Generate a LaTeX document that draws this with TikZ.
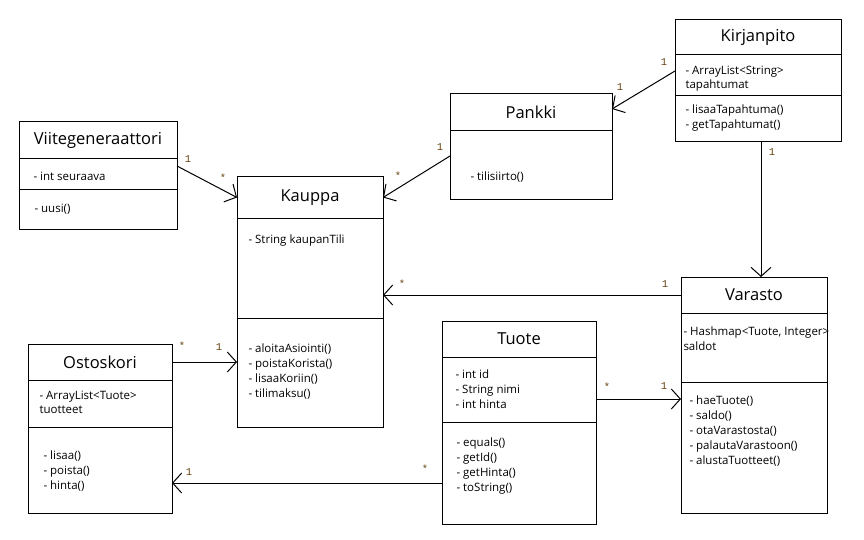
\documentclass[tikz,border=0pt]{standalone}
\usepackage{fontspec}
\setmainfont{Open Sans}
\newfontfamily\multfont{Liberation Mono}
\usepackage{tikz}
\usetikzlibrary{arrows.meta}
\usetikzlibrary{positioning}
\definecolor{multcol}{RGB}{100,66,16}

\begin{document}
\begin{tikzpicture}[x=1pt, y=-1pt, line width=1pt,
    classname/.style={draw, outer sep=0pt, inner sep=0pt, anchor=north west, font=\fontsize{16.5}{18}\selectfont},
    part/.style={draw, outer sep=0pt, inner sep=0pt},
    members/.style={anchor=north west, inner sep=0pt, align=left, font=\fontsize{11.5}{15}\selectfont},
    mult/.style={inner sep=0pt, font=\multfont\fontsize{10.5}{10.5}\selectfont, text=multcol},
    assoc/.style={-{Straight Barb[length=9pt, width=20pt]}}]
        \useasboundingbox (0,0) rectangle (864,540);

        % classes
        \node[classname, minimum width=158pt, minimum height=37pt] (viite) at (19,122) {Viitegeneraattori};
        \node[part, minimum width=158pt, minimum height=31pt, below=0pt of viite] (viiteA) {};
        \node[part, minimum width=158pt, minimum height=39pt, below=0pt of viiteA] (viiteM) {};
        \node[members] (viiteAt) at ([xshift=14pt, yshift=-13pt]viiteA.north west) {- int seuraava};
        \node[members] (viiteMt) at ([xshift=15pt, yshift=-14pt]viiteM.north west) {- uusi()};

        \node[classname, minimum width=146pt, minimum height=41pt] (kauppa) at (237,177) {Kauppa};
        \node[part, minimum width=146pt, minimum height=100pt, below=0pt of kauppa] (kauppaA) {};
        \node[part, minimum width=146pt, minimum height=109pt, below=0pt of kauppaA] (kauppaM) {};
        \node[members] (kauppaAt) at ([xshift=11pt, yshift=-16pt]kauppaA.north west) {- String kaupanTili};
        \node[members] (kauppaMt) at ([xshift=11pt, yshift=-25pt]kauppaM.north west) {- aloitaAsiointi()\\- poistaKorista()\\- lisaaKoriin()\\- tilimaksu()};

        \node[classname, minimum width=162pt, minimum height=37pt] (pankki) at (450,94) {Pankki};
        \node[part, minimum width=162pt, minimum height=68pt, below=0pt of pankki] (pankkiB) {};
        \node[members] (pankkiBt) at ([xshift=20pt, yshift=-40pt]pankkiB.north west) {- tilisiirto()};

        \node[classname, minimum width=166pt, minimum height=35pt] (kirja) at (675,20) {Kirjanpito};
        \node[part, minimum width=166pt, minimum height=41pt, below=0pt of kirja] (kirjaA) {};
        \node[part, minimum width=166pt, minimum height=46pt, below=0pt of kirjaA] (kirjaM) {};
        \node[members, font=\fontsize{11.5}{14}\selectfont] (kirjaAt) at ([xshift=10pt, yshift=-11pt]kirjaA.north west) {- ArrayList<String>\\tapahtumat};
        \node[members] (kirjaMt) at ([xshift=10pt, yshift=-8pt]kirjaM.north west) {- lisaaTapahtuma()\\- getTapahtumat()};

        \node[classname, minimum width=146pt, minimum height=36pt] (varasto) at (681,277) {Varasto};
        \node[part, minimum width=146pt, minimum height=69pt, below=0pt of varasto] (varastoA) {};
        \node[part, minimum width=146pt, minimum height=131pt, below=0pt of varastoA] (varastoM) {};
        \node[members] (varastoAt) at ([xshift=2pt, yshift=-13pt]varastoA.north west) {- Hashmap<Tuote, Integer>\\saldot};
        \node[members] (varastoMt) at ([xshift=8pt, yshift=-13pt]varastoM.north west) {- haeTuote()\\- saldo()\\- otaVarastosta()\\- palautaVarastoon()\\- alustaTuotteet()};

        \node[classname, minimum width=154pt, minimum height=36pt] (tuote) at (442,321) {Tuote};
        \node[part, minimum width=154pt, minimum height=65pt, below=0pt of tuote] (tuoteA) {};
        \node[part, minimum width=154pt, minimum height=102pt, below=0pt of tuoteA] (tuoteM) {};
        \node[members] (tuoteAt) at ([xshift=13pt, yshift=-12pt]tuoteA.north west) {- int id\\- String nimi\\- int hinta};
        \node[members] (tuoteMt) at ([xshift=14pt, yshift=-15pt]tuoteM.north west) {- equals()\\- getId()\\- getHinta()\\- toString()};

        \node[classname, minimum width=144pt, minimum height=36pt] (osto) at (28,344) {Ostoskori};
        \node[part, minimum width=144pt, minimum height=47pt, below=0pt of osto] (ostoA) {};
        \node[part, minimum width=144pt, minimum height=86pt, below=0pt of ostoA] (ostoM) {};
        \node[members, font=\fontsize{11.5}{14}\selectfont] (ostoAt) at ([xshift=11pt, yshift=-11pt]ostoA.north west) {- ArrayList<Tuote>\\tuotteet};
        \node[members] (ostoMt) at ([xshift=15pt, yshift=-23pt]ostoM.north west) {- lisaa()\\- poista()\\- hinta()};

        % associations
        \draw[assoc] ([yshift=-7pt]viiteA.north east) -- (kauppa.west)
            node[mult, at start, xshift=11pt, yshift=7pt] {1}
            node[mult, at end, xshift=-14pt, yshift=20pt] {*};
        \draw[assoc] ([yshift=-25pt]pankkiB.north west) -- (kauppa.east)
            node[mult, at start, xshift=-10pt, yshift=9pt] {1}
            node[mult, at end, xshift=15pt, yshift=22pt] {*};
        \draw[assoc] ([yshift=-16pt]kirjaA.north west) -- ([yshift=-15pt]pankki.north east)
            node[mult, at start, xshift=-11pt, yshift=9pt] {1}
            node[mult, at end, xshift=8pt, yshift=22pt] {1};
        \draw[assoc] ([xshift=3pt]kirjaM.south) coordinate (kv) -- (kv |- varasto.north)
            node[mult, at start, xshift=11pt, yshift=-10pt] {1};
        \draw[assoc] (varasto.west) -- (varasto.west -| kauppaA.east)
            node[mult, at start, xshift=-16pt, yshift=11pt] {1}
            node[mult, at end, xshift=19pt, yshift=11pt] {*};
        \draw[assoc] (osto.east) -- (osto.east -| kauppaM.west)
            node[mult, at start, xshift=10pt, yshift=16pt] {*}
            node[mult, at end, xshift=-18pt, yshift=15pt] {1};
        \draw[assoc] ([yshift=-42pt]tuoteA.north east) coordinate (tv) -- (tv -| varastoM.west)
            node[mult, at start, xshift=11pt, yshift=12pt] {*}
            node[mult, at end, xshift=-17pt, yshift=13pt] {1};
        \draw[assoc] ([yshift=-61pt]tuoteM.north west) coordinate (to) -- (to -| ostoM.east)
            node[mult, at start, xshift=-17pt, yshift=14pt] {*}
            node[mult, at end, xshift=17pt, yshift=11pt] {1};
\end{tikzpicture}
\end{document}
